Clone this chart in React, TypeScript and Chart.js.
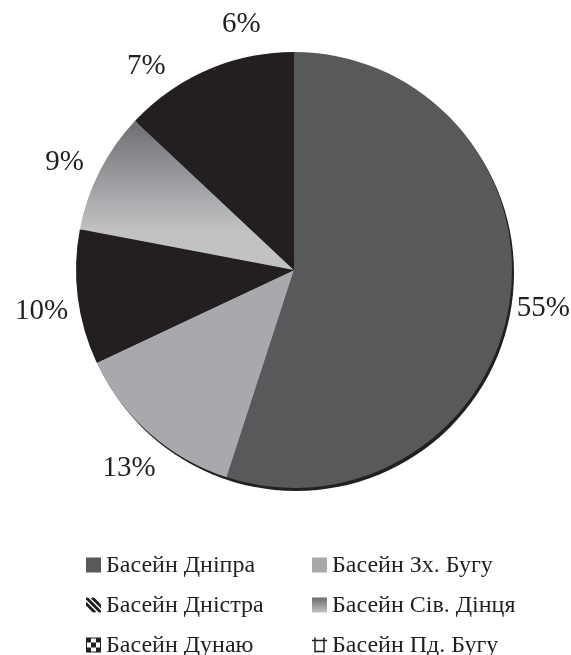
import React, { useEffect, useRef } from "react";
import { Chart, registerables } from "chart.js";

Chart.register(...registerables);

const categories = [
  "Басейн Дніпра",
  "Басейн Зх. Бугу",
  "Басейн Дністра",
  "Басейн Сів. Дінця",
  "Басейн Дунаю",
  "Басейн Пд. Бугу",
];
const shares = [55, 13, 10, 9, 7, 6];
const sliceColors = ["#58595b", "#a7a9ac", "#231f20", "gradient", "#231f20", "#231f20"];
const markerKinds = ["solid", "solid", "stripes", "gradient", "checker", "hash"];

const INK = "#231f20";
const SERIF = "'Liberation Serif', 'Times New Roman', serif";

function makeGradient(ctx: CanvasRenderingContext2D, y0: number, y1: number) {
  const g = ctx.createLinearGradient(0, y0, 0, y1);
  g.addColorStop(0, "#6b6c6f");
  g.addColorStop(1, "#c0c2c4");
  return g;
}

const shadowPlugin = {
  id: "pieShadow",
  beforeDatasetsDraw(chart: any) {
    const arc = chart.getDatasetMeta(0).data[0];
    if (!arc) return;
    const { x, y, outerRadius } = arc.getProps(["x", "y", "outerRadius"], true);
    const ctx = chart.ctx;
    ctx.save();
    ctx.fillStyle = INK;
    ctx.beginPath();
    ctx.arc(x + 2, y + 3, outerRadius, 0, Math.PI * 2);
    ctx.fill();
    ctx.restore();
  },
};

const labelPlugin = {
  id: "pctLabels",
  afterDatasetsDraw(chart: any) {
    const ctx = chart.ctx;
    const meta = chart.getDatasetMeta(0);
    ctx.save();
    ctx.font = `29px ${SERIF}`;
    ctx.fillStyle = INK;
    ctx.textAlign = "center";
    ctx.textBaseline = "middle";
    meta.data.forEach((arc: any, i: number) => {
      const { x, y, startAngle, endAngle, outerRadius } = arc.getProps(
        ["x", "y", "startAngle", "endAngle", "outerRadius"],
        true
      );
      const txt = `${chart.data.datasets[0].data[i]}%`;
      const w = ctx.measureText(txt).width;
      const mid = (startAngle + endAngle) / 2 - 0.02;
      const d = outerRadius * 1.17;
      let px = x + Math.cos(mid) * d;
      px = Math.min(px, chart.width - w / 2 - 1);
      px = Math.max(px, w / 2 + 1);
      ctx.fillText(txt, px, y + Math.sin(mid) * d + 4);
    });
    ctx.restore();
  },
};

function drawMarker(ctx: CanvasRenderingContext2D, kind: string, color: string, x: number, y: number, s: number) {
  ctx.save();
  if (kind === "solid") {
    ctx.fillStyle = color;
    ctx.fillRect(x, y, s, s);
  } else if (kind === "gradient") {
    ctx.fillStyle = makeGradient(ctx, y, y + s);
    ctx.fillRect(x, y, s, s);
  } else if (kind === "stripes") {
    ctx.beginPath();
    ctx.rect(x, y, s, s);
    ctx.clip();
    ctx.strokeStyle = INK;
    ctx.lineWidth = 3;
    for (let k = -1; k <= 1; k++) {
      const o = k * 6;
      ctx.beginPath();
      ctx.moveTo(x + o, y);
      ctx.lineTo(x + s + o, y + s);
      ctx.stroke();
    }
  } else if (kind === "checker") {
    const c = s / 3;
    ctx.fillStyle = INK;
    ctx.fillRect(x, y, s, s);
    ctx.fillStyle = "#ffffff";
    ctx.fillRect(x + c * 1, y + 1, c, c - 1);
    ctx.fillRect(x + 1, y + c, c - 1, c);
    ctx.fillRect(x + c * 2, y + c, c - 1, c);
    ctx.fillRect(x + c, y + c * 2, c, c - 1);
  } else if (kind === "hash") {
    ctx.strokeStyle = INK;
    ctx.lineWidth = 1.5;
    ctx.beginPath();
    ctx.moveTo(x + 3, y);
    ctx.lineTo(x + 3, y + s);
    ctx.moveTo(x + s - 3, y);
    ctx.lineTo(x + s - 3, y + s);
    ctx.moveTo(x, y + 3);
    ctx.lineTo(x + s, y + 3);
    ctx.moveTo(x + 3, y + s - 1);
    ctx.lineTo(x + s - 3, y + s - 1);
    ctx.stroke();
  }
  ctx.restore();
}

const legendPlugin = {
  id: "gridLegend",
  afterDraw(chart: any) {
    const ctx = chart.ctx;
    const area = chart.chartArea;
    const colX = [86, 312];
    const firstRow = area.bottom + 77;
    const rowGap = 40;
    const box = 15;
    ctx.save();
    ctx.font = `24px ${SERIF}`;
    ctx.fillStyle = INK;
    ctx.textAlign = "left";
    ctx.textBaseline = "middle";
    chart.data.labels.forEach((lab: string, i: number) => {
      const col = i % 2;
      const row = Math.floor(i / 2);
      const cy = firstRow + row * rowGap;
      drawMarker(ctx, markerKinds[i], sliceColors[i], colX[col], cy - box / 2, box);
      ctx.fillStyle = INK;
      ctx.fillText(lab, colX[col] + box + 5, cy + 1);
    });
    ctx.restore();
  },
};

export default function App() {
  const ref = useRef<HTMLCanvasElement | null>(null);
  useEffect(() => {
    if (!ref.current) return;
    const chart = new Chart(ref.current, {
      type: "pie",
      data: {
        labels: categories,
        datasets: [
          {
            data: shares,
            backgroundColor: (c: any) => {
              const col = sliceColors[c.dataIndex];
              if (col !== "gradient") return col;
              const area = c.chart.chartArea;
              if (!area) return "#999a9d";
              const cy = (area.top + area.bottom) / 2;
              const r = (area.bottom - area.top) / 2;
              return makeGradient(c.chart.ctx, cy - r * 0.7, cy - r * 0.18);
            },
            borderWidth: 0,
            hoverOffset: 0,
            offset: 0,
          },
        ],
      },
      options: {
        animation: false,
        responsive: true,
        maintainAspectRatio: false,
        events: [],
        layout: { padding: { left: 76, right: 59, top: 52, bottom: 167 } },
        plugins: {
          legend: { display: false },
          tooltip: { enabled: false },
        },
      },
      plugins: [shadowPlugin, labelPlugin, legendPlugin],
    });
    return () => chart.destroy();
  }, []);
  return (
    <div style={{ position: "fixed", left: 0, top: 0, width: "571px", height: "655px", background: "#fff" }}>
      <canvas ref={ref} />
    </div>
  );
}
